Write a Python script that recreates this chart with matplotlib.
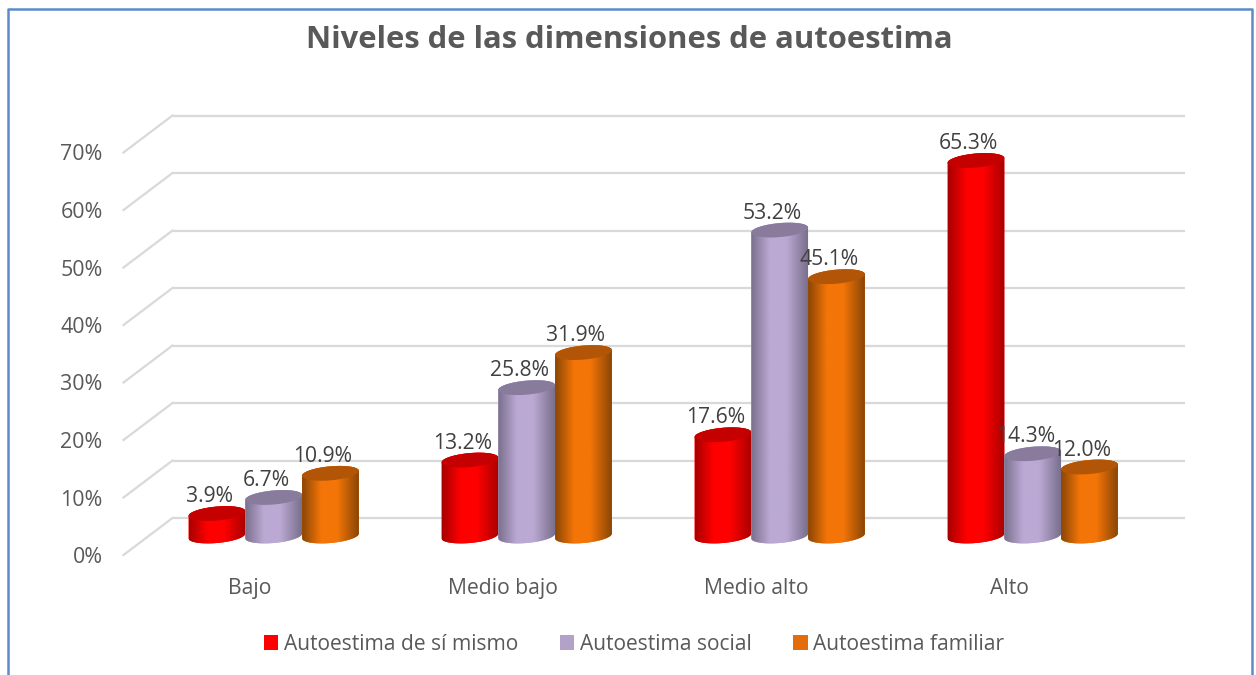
# -*- coding: utf-8 -*-
#Cylinder chart for the self esteem levels
import numpy as np
import matplotlib
matplotlib.use("Agg")
import matplotlib.pyplot as plt
from matplotlib.colors import LinearSegmentedColormap
from matplotlib.lines import Line2D
from matplotlib.patches import Patch, Polygon
from matplotlib.transforms import Affine2D, IdentityTransform

categories = ["Bajo", "Medio bajo", "Medio alto", "Alto"]
series_names = ["Autoestima de sí mismo", "Autoestima social", "Autoestima familiar"]
si_mismo = [3.9, 13.2, 17.6, 65.3]
social = [6.7, 25.8, 53.2, 14.3]
familiar = [10.9, 31.9, 45.1, 12.0]
y_ticks = [0, 10, 20, 30, 40, 50, 60, 70]

legend_colors = ["#FF0000", "#B3A2C7", "#E46C0A"]
body_edge = ["#A80000", "#7A6F8C", "#8A4606"]
body_mid = ["#FF0000", "#BBA9D4", "#F47508"]
top_colors = ["#C40000", "#887B9C", "#B25506"]

W, H = 1256, 675
TXT = "#595959"
GRID = "#D9D9D9"
plt.rcParams["font.family"] = ["Open Sans", "DejaVu Sans"]

fig = plt.figure(figsize=(W / 100, H / 100), dpi=100)
# axes = the front plane of the 3d box (pixels measured on the reference)
ax = fig.add_axes([123.5 / W, (H - 555) / H, 1012 / W, 402.5 / H])
ax.set_facecolor("none")
ax.set_xlim(-0.5, 3.5)
ax.set_ylim(0, 70)
for s in ax.spines.values():
    s.set_visible(False)

depth_x, depth_y = 49, 37
back = ax.transData + Affine2D().translate(depth_x, depth_y)
mid = ax.transData + Affine2D().translate(depth_x / 2 - 0.8, depth_y / 2 + 0.5)
label_tr = mid + Affine2D().translate(-7.5, 17)

#back wall gridlines + the diagonal on the left side
for v in y_ticks:
    ax.plot([-0.5, 3.5], [v, v], color=GRID, lw=1.6, transform=back, clip_on=False,
            solid_capstyle="butt", zorder=1)
    x0, y0 = ax.transData.transform((-0.5, v))
    ax.add_line(Line2D([x0, x0 + depth_x], [y0, y0 + depth_y], color=GRID, lw=1.6,
                       transform=IdentityTransform(), zorder=1, clip_on=False))

ax.set_xticks(range(len(categories)))
ax.set_xticklabels(categories, fontsize=15.2, color=TXT)
ax.set_yticks(y_ticks)
ax.set_yticklabels(["%d%%" % v for v in y_ticks], fontsize=15.4, color=TXT)
ax.tick_params(axis="both", length=0)
ax.tick_params(axis="y", pad=15)
ax.tick_params(axis="x", pad=16.5)

bar_w = 0.2245
semi_h = 7 / (402.5 / 70)     # ellipse half height, in % units
tilt = 2.4 / (402.5 / 70)     # right side of the ellipse sits a bit higher
t_low = np.linspace(np.pi, 2 * np.pi, 40)
t_up = np.linspace(0, np.pi, 40)
t = np.linspace(0, 2 * np.pi, 80)

z = 3
for s, vals in enumerate([si_mismo, social, familiar]):
    cmap = LinearSegmentedColormap.from_list(
        "cyl%d" % s,
        [(0, body_edge[s]), (0.33, body_mid[s]), (0.62, body_mid[s]), (1, body_edge[s])])
    for i, v in enumerate(vals):
        xc = i + (s - 1) * bar_w
        a = bar_w / 2
        # outline of the body: lower half of base ellipse + upper half of top ellipse
        body = np.concatenate([
            np.column_stack([xc + a * np.cos(t_low), tilt * np.cos(t_low) + semi_h * np.sin(t_low)]),
            np.column_stack([xc + a * np.cos(t_up), v + tilt * np.cos(t_up) + semi_h * np.sin(t_up)]),
        ])
        poly = Polygon(body, closed=True, facecolor=body_mid[s], edgecolor="none",
                       transform=mid, zorder=z, clip_on=False)
        ax.add_patch(poly)
        im = ax.imshow(np.linspace(0, 1, 128).reshape(1, -1), cmap=cmap, aspect="auto",
                       extent=(xc - a, xc + a, -semi_h - tilt, v + semi_h + tilt),
                       transform=mid, zorder=z + 0.1, interpolation="bilinear")
        im.set_clip_path(poly)
        top = Polygon(np.column_stack([xc + a * np.cos(t), v + tilt * np.cos(t) + semi_h * np.sin(t)]),
                      closed=True, facecolor=top_colors[s], edgecolor="none", transform=mid,
                      zorder=z + 0.2, clip_on=False)
        ax.add_patch(top)
        z += 1
        ax.text(xc, v, "%.1f%%" % v, transform=label_tr, ha="center", va="center",
                fontsize=15.2, color="#404040", zorder=100, clip_on=False)

ax.set_xlim(-0.5, 3.5)
ax.set_ylim(0, 70)

fig.text(629.5 / W, 1 - 40 / H, "Niveles de las dimensiones de autoestima", ha="center",
         va="center", fontsize=22.3, fontweight="bold", color=TXT)

handles = [Patch(facecolor=c, edgecolor="none") for c in legend_colors]
fig.legend(handles, series_names, loc="center", bbox_to_anchor=(634 / W, 1 - 644 / H), ncol=3,
           frameon=False, fontsize=15.1, labelcolor=TXT, handlelength=0.7, handleheight=0.7,
           handletextpad=0.25, columnspacing=2.0, borderpad=0)

#blue frame, the bottom edge is cut off in the picture
fig.add_artist(Line2D([8 / W, 8 / W, 1252 / W, 1252 / W], [0, 1 - 9 / H, 1 - 9 / H, 0],
                      color="#5B8BC9", lw=1.8, transform=fig.transFigure))

fig.savefig("out.png", dpi=100)
